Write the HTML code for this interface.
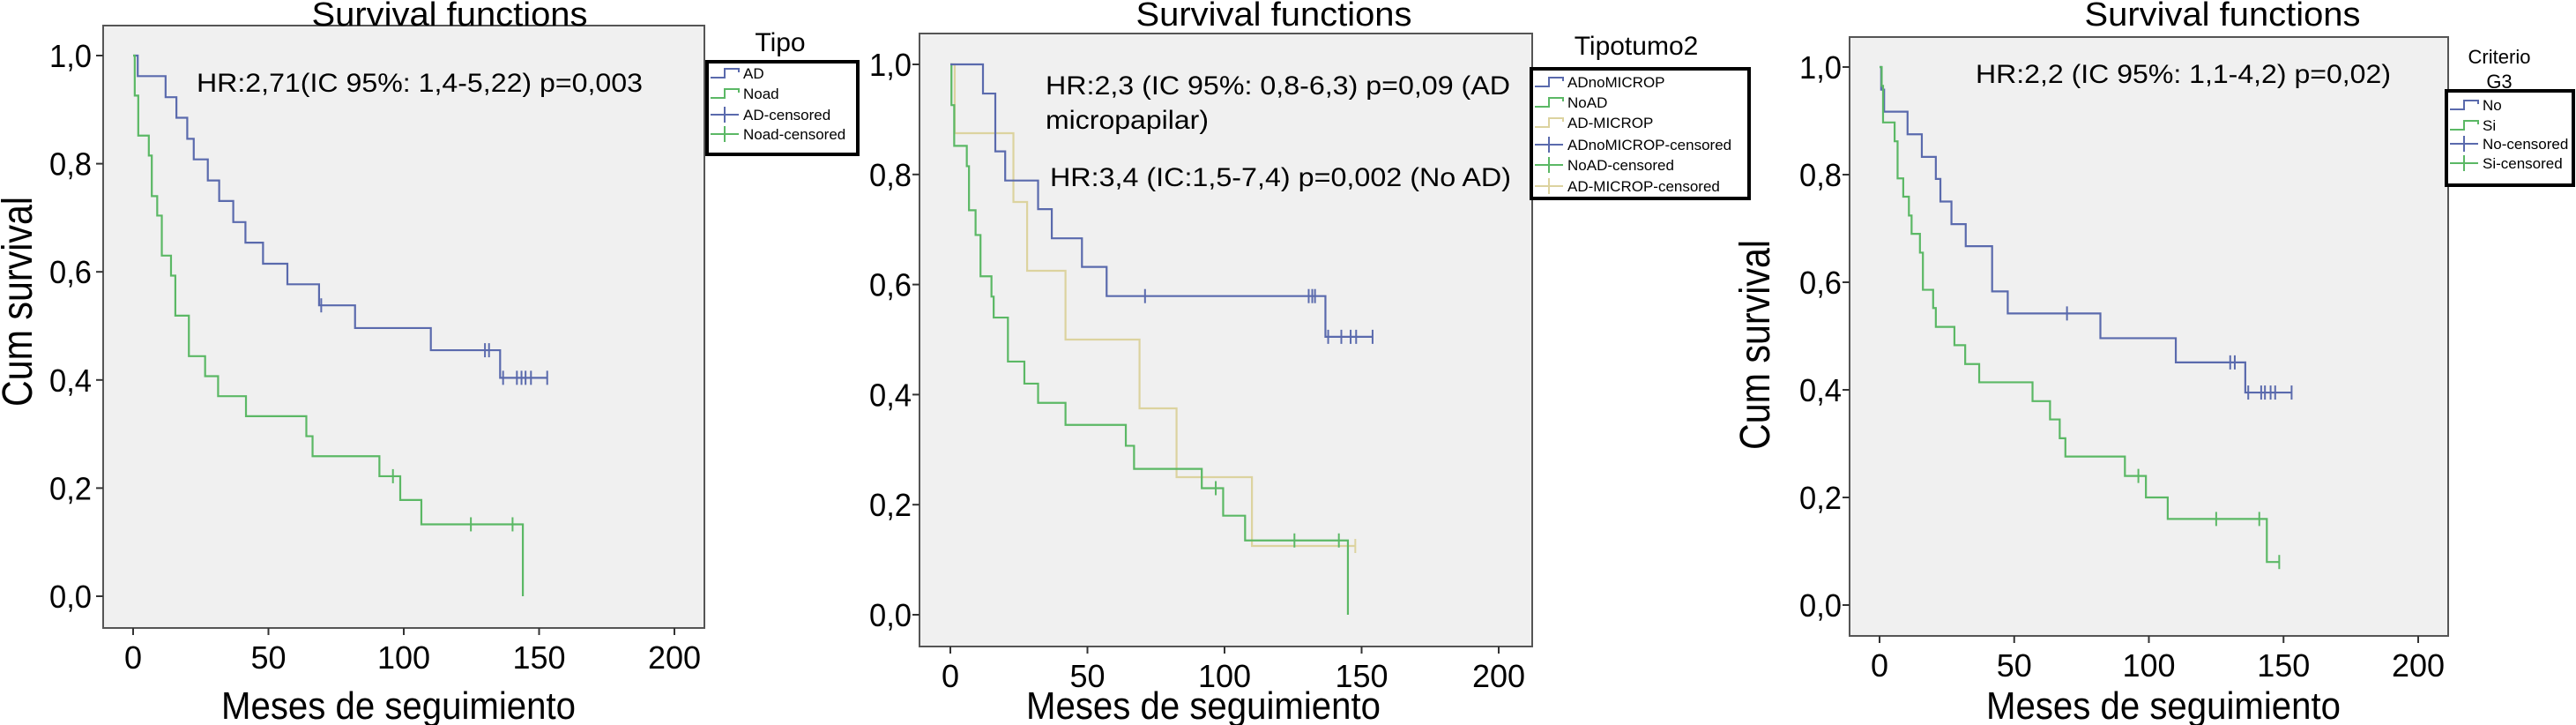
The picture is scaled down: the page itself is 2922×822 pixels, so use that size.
<!DOCTYPE html>
<html><head><meta charset="utf-8"><style>
html,body{margin:0;padding:0;background:#fff;}
svg{display:block;font-family:"Liberation Sans",sans-serif;}
</style></head><body>
<svg id="chart" width="2922" height="822" viewBox="0 0 2922 822" xmlns="http://www.w3.org/2000/svg">
<rect width="2922" height="822" fill="#fff"/>
</svg>
<script>
// ---- Data (months, cumulative survival) ----
const xTicks = [0, 50, 100, 150, 200];
const yTicks = [0, 0.2, 0.4, 0.6, 0.8, 1.0];
const yTickLabels = ["0,0", "0,2", "0,4", "0,6", "0,8", "1,0"];

// Panel 1
const p1ADTimes = [1.7, 12, 16, 20, 22.4, 27.6, 31.8, 37, 41.5, 48, 57, 68.7, 82, 110, 135.6];
const p1ADSurv  = [0.962, 0.923, 0.885, 0.846, 0.808, 0.769, 0.731, 0.692, 0.654, 0.615, 0.577, 0.538, 0.496, 0.455, 0.404];
const p1ADCens  = [69.5, 130, 131.5, 136.7, 141.8, 143.5, 145, 147, 153];
const p1NoTimes = [0.6, 1.9, 5.8, 6.9, 8.9, 10.6, 14, 15.6, 20.6, 26.6, 31.4, 41.7, 64, 66.3, 91, 98.7, 106.5, 144];
const p1NoSurv  = [0.926, 0.852, 0.815, 0.74, 0.704, 0.63, 0.593, 0.519, 0.444, 0.407, 0.37, 0.333, 0.296, 0.259, 0.222, 0.178, 0.133, 0.0];
const p1NoCens  = [96, 124.8, 140.2];

// Panel 2
const p2BlueTimes = [11.9, 16.4, 20, 32, 37, 48, 57, 136.8];
const p2BlueSurv  = [0.947, 0.842, 0.789, 0.737, 0.684, 0.632, 0.579, 0.505];
const p2BlueCens  = [71, 130.7, 132, 133, 137.8, 142.6, 146, 148, 154];
const p2GreenTimes = [0.4, 1.4, 6, 6.8, 9.2, 11, 15, 15.8, 21, 27, 32, 42, 64, 67, 91.7, 99.5, 107.5, 145];
const p2GreenSurv  = [0.926, 0.852, 0.815, 0.735, 0.69, 0.615, 0.578, 0.54, 0.46, 0.42, 0.385, 0.345, 0.307, 0.265, 0.23, 0.18, 0.135, 0.0];
const p2GreenCens  = [96.8, 125.5, 141.7];
const p2TanTimes = [1.6, 23, 28, 42, 69, 82.5, 110];
const p2TanSurv  = [0.875, 0.75, 0.625, 0.5, 0.375, 0.25, 0.125];
const p2TanCens  = [147.7];

// Panel 3
const p3NoTimes = [0.6, 1.7, 10.4, 15.7, 20.9, 22.6, 26.7, 32, 41.8, 47.6, 82, 110, 135.8];
const p3NoSurv  = [0.958, 0.917, 0.875, 0.833, 0.792, 0.75, 0.708, 0.667, 0.583, 0.542, 0.496, 0.451, 0.395];
const p3NoCens  = [69.6, 130.2, 131.9, 136.9, 141.7, 143.1, 145.2, 146.9, 153];
const p3SiTimes = [0.8, 1.3, 5.6, 6.7, 8.8, 10.9, 11.9, 15, 16.1, 19.9, 20.9, 27.8, 31.8, 37, 56.8, 63.3, 66.9, 69, 91.1, 98.9, 107, 143.8];
const p3SiSurv  = [0.965, 0.897, 0.862, 0.793, 0.759, 0.724, 0.69, 0.655, 0.586, 0.552, 0.517, 0.483, 0.448, 0.414, 0.379, 0.345, 0.31, 0.276, 0.24, 0.2, 0.16, 0.08];
const p3SiCens  = [96.1, 125, 141, 148.4];

const BLUE = "#5a6aad", GREEN = "#5bb865", TAN = "#dcd39f";
const NS = "http://www.w3.org/2000/svg";
const svg = document.getElementById("chart");

function el(tag, attrs, parent, text) {
  const e = document.createElementNS(NS, tag);
  for (const k in attrs) e.setAttribute(k, attrs[k]);
  if (text !== undefined) e.textContent = text;
  (parent || svg).appendChild(e);
  return e;
}

function makeScales(cfg) {
  const sx = t => cfg.x0 + (t / 200) * (cfg.x200 - cfg.x0);
  const sy = s => cfg.y0 - s * (cfg.y0 - cfg.y1);
  return {sx, sy};
}

function survAt(times, surv, t) {
  let s = 1;
  for (let i = 0; i < times.length; i++) if (times[i] <= t) s = surv[i];
  return s;
}

function drawSeries(g, sc, times, surv, cens, color, name) {
  let d = "M" + sc.sx(0) + "," + sc.sy(1);
  let prev = 1;
  for (let i = 0; i < times.length; i++) {
    d += " H" + sc.sx(times[i]) + " V" + sc.sy(surv[i]);
    prev = surv[i];
  }
  const lastT = Math.max(times[times.length - 1], cens.length ? Math.max(...cens) : 0);
  if (prev > 0) d += " H" + sc.sx(lastT);
  const p = el("path", {d: d, fill: "none", stroke: color, "stroke-width": 2.2}, g);
  
  
  cens.forEach(function (t) {
    const s = survAt(times, surv, t);
    const m = el("line", {x1: sc.sx(t), x2: sc.sx(t), y1: sc.sy(s) - 8, y2: sc.sy(s) + 8, stroke: color, "stroke-width": 2}, g);
    
    
  });
}

function drawPanel(cfg) {
  const g = el("g", {});
  
  
  const sc = makeScales(cfg);
  const bg = el("rect", {x: cfg.L, y: cfg.T, width: cfg.R - cfg.L, height: cfg.B - cfg.T, fill: "#f0f0f0", stroke: "#555", "stroke-width": 2}, g);
  
  
  const t = el("text", {x: cfg.titleX, y: 29, "font-size": 38, "text-anchor": "middle", textLength: 313, lengthAdjust: "spacingAndGlyphs"}, g, "Survival functions");
  
  
  yTicks.forEach(function (v, i) {
    const y = sc.sy(v);
    const tk = el("line", {x1: cfg.L - 8, x2: cfg.L, y1: y, y2: y, stroke: "#333", "stroke-width": 2}, g);
    
    
    const lb = el("text", {x: cfg.yLabX, y: y + 13, "font-size": 36, "text-anchor": "end", textLength: 48, lengthAdjust: "spacingAndGlyphs"}, g, yTickLabels[i]);
    
    
  });
  xTicks.forEach(function (v) {
    const x = sc.sx(v);
    const tk = el("line", {x1: x, x2: x, y1: cfg.B, y2: cfg.B + 8, stroke: "#333", "stroke-width": 2}, g);
    
    
    const lb = el("text", {x: x, y: cfg.B + 46, "font-size": 36, "text-anchor": "middle"}, g, String(v));
    
    
  });
  const xt = el("text", {x: cfg.xTitleX, y: 815, "font-size": 44, "text-anchor": "middle", textLength: 402, lengthAdjust: "spacingAndGlyphs"}, g, "Meses de seguimiento");
  
  
  if (cfg.yTitleX !== null) {
    const yt = el("text", {x: 0, y: 0, "font-size": 48, "text-anchor": "middle", textLength: 238, lengthAdjust: "spacingAndGlyphs", transform: "translate(" + (cfg.yTitleX + 17) + "," + cfg.yTitleY + ") rotate(-90)"}, g, "Cum survival");
    
    
  }
  cfg.notes.forEach(function (n) {
    const tx = el("text", {x: n[0], y: n[1] + 10, "font-size": 30, textLength: n[3], lengthAdjust: "spacingAndGlyphs"}, g, n[2]);
    
    
  });
  cfg.series.forEach(function (s) { drawSeries(g, sc, s[0], s[1], s[2], s[3], s[4]); });
  const lg = cfg.legend;
  const lgG = el("g", {}, g);
  
  
  lg.titles.forEach(function (tt) {
    const te = el("text", {x: tt[0], y: tt[1] + 10, "font-size": tt[2], "text-anchor": "middle"}, lgG, tt[3]);
    
    
  });
  const bx = el("rect", {x: lg.x1, y: lg.y1, width: lg.x2 - lg.x1, height: lg.y2 - lg.y1, fill: "#fff", stroke: "#000", "stroke-width": 4}, lgG);
  
  
  lg.entries.forEach(function (en) {
    const y = en[0], col = en[1], label = en[2], cens = en[3];
    const sx0 = lg.x1 + 4, sx1 = sx0 + 32;
    let sym;
    if (cens) {
      sym = el("path", {d: "M" + sx0 + "," + y + " H" + sx1 + " M" + (sx0 + 16) + "," + (y - 9) + " V" + (y + 9), stroke: col, "stroke-width": 2, fill: "none"}, lgG);
    } else {
      sym = el("path", {d: "M" + sx0 + "," + (y + 5) + " H" + (sx0 + 16) + " V" + (y - 5) + " H" + sx1 + " V" + (y - 1), stroke: col, "stroke-width": 2, fill: "none"}, lgG);
    }
    
    
    const tx = el("text", {x: sx1 + 5, y: y + 6, "font-size": 17}, lgG, label);
    
    
  });
}

drawPanel({
  name: "panel-tipo", L: 117, R: 799, T: 29, B: 712, x0: 151, x200: 765, y1: 63, y0: 676,
  titleX: 510, yLabX: 104, xTitleX: 452, yTitleX: 19, yTitleY: 342,
  notes: [[223, 94, "HR:2,71(IC 95%: 1,4-5,22) p=0,003", 506]],
  series: [[p1ADTimes, p1ADSurv, p1ADCens, BLUE, "ad"], [p1NoTimes, p1NoSurv, p1NoCens, GREEN, "noad"]],
  legend: {x1: 802, y1: 70, x2: 973, y2: 175, titles: [[885, 48, 30, "Tipo"]],
    entries: [[83, BLUE, "AD", false], [106, GREEN, "Noad", false], [130, BLUE, "AD-censored", true], [152, GREEN, "Noad-censored", true]]}
});
drawPanel({
  name: "panel-tipotumo2", L: 1043, R: 1738, T: 38, B: 733, x0: 1078, x200: 1700, y1: 73, y0: 697,
  titleX: 1445, yLabX: 1034, xTitleX: 1365, yTitleX: null,
  notes: [[1186, 97, "HR:2,3 (IC 95%: 0,8-6,3) p=0,09 (AD", 527], [1186, 136, "micropapilar)", 185], [1191, 201, "HR:3,4 (IC:1,5-7,4) p=0,002 (No AD)", 523]],
  series: [[p2TanTimes, p2TanSurv, p2TanCens, TAN, "ad-microp"], [p2GreenTimes, p2GreenSurv, p2GreenCens, GREEN, "noad"], [p2BlueTimes, p2BlueSurv, p2BlueCens, BLUE, "adnomicrop"]],
  legend: {x1: 1737, y1: 78, x2: 1984, y2: 225, titles: [[1856, 52, 30, "Tipotumo2"]],
    entries: [[93, BLUE, "ADnoMICROP", false], [116, GREEN, "NoAD", false], [139, TAN, "AD-MICROP", false], [164, BLUE, "ADnoMICROP-censored", true], [187, GREEN, "NoAD-censored", true], [211, TAN, "AD-MICROP-censored", true]]}
});
drawPanel({
  name: "panel-criterio-g3", L: 2098, R: 2777, T: 42, B: 721, x0: 2132, x200: 2743, y1: 76, y0: 686,
  titleX: 2521, yLabX: 2089, xTitleX: 2454, yTitleX: 1990, yTitleY: 391,
  notes: [[2241, 84, "HR:2,2 (IC 95%: 1,1-4,2) p=0,02)", 471]],
  series: [[p3NoTimes, p3NoSurv, p3NoCens, BLUE, "no"], [p3SiTimes, p3SiSurv, p3SiCens, GREEN, "si"]],
  legend: {x1: 2775, y1: 103, x2: 2919, y2: 210, titles: [[2835, 62, 22, "Criterio"], [2835, 90, 22, "G3"]],
    entries: [[119, BLUE, "No", false], [142, GREEN, "Si", false], [163, BLUE, "No-censored", true], [185, GREEN, "Si-censored", true]]}
});
</script>
</body></html>
